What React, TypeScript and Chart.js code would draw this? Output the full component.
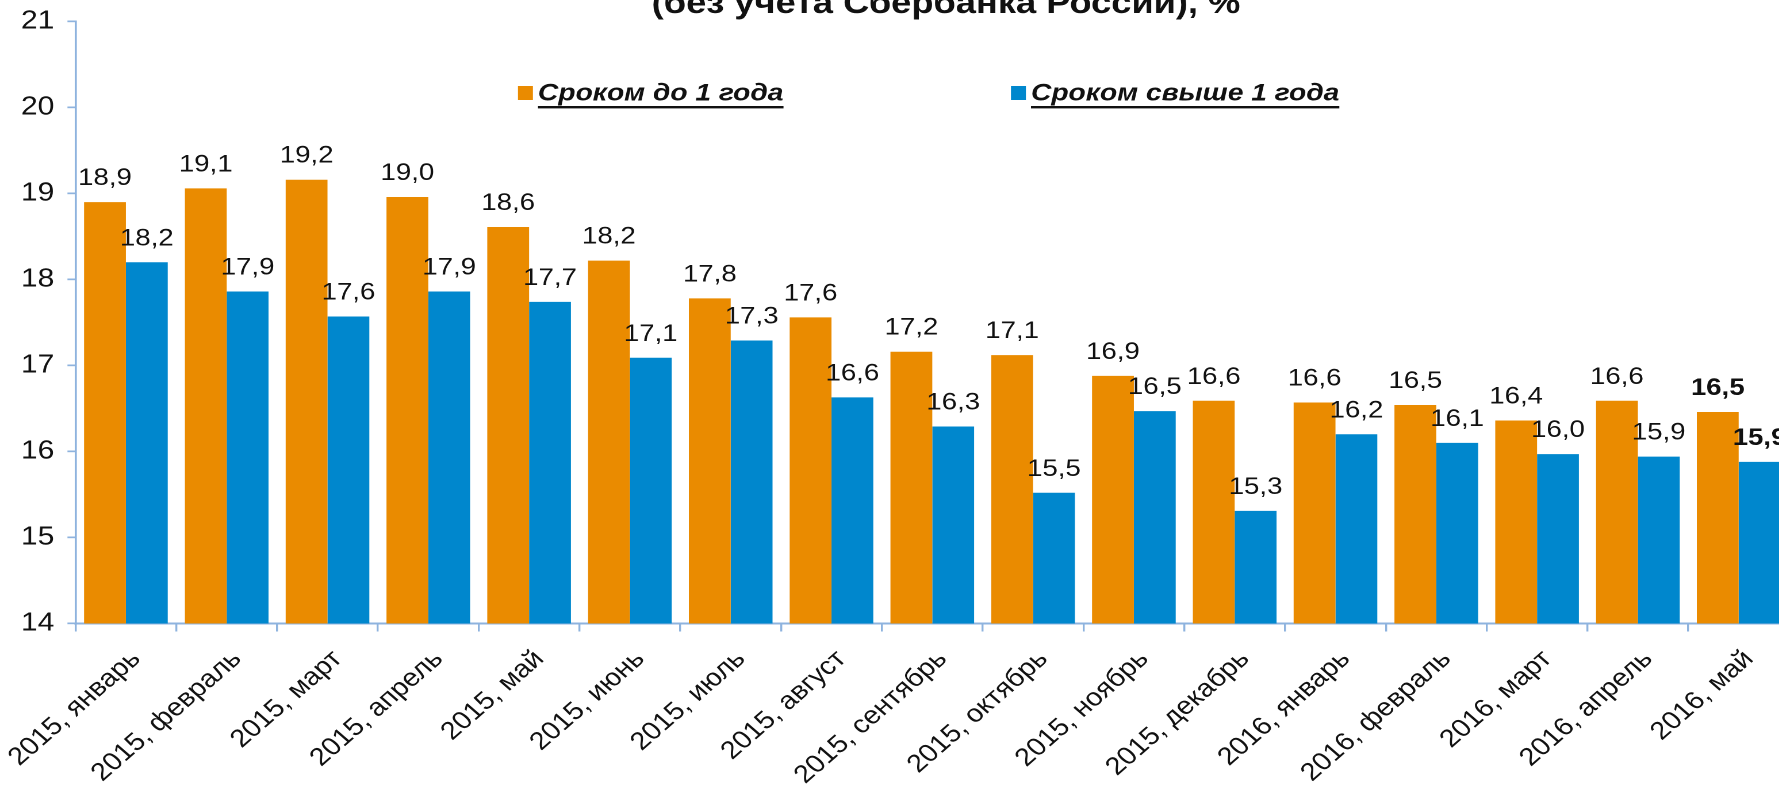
import React, { useEffect, useRef } from "react";
import { Chart, registerables } from "chart.js";

Chart.register(...registerables);

// ---------- data ----------
const categories = [
  "2015, январь", "2015, февраль", "2015, март", "2015, апрель", "2015, май",
  "2015, июнь", "2015, июль", "2015, август", "2015, сентябрь", "2015, октябрь",
  "2015, ноябрь", "2015, декабрь", "2016, январь", "2016, февраль", "2016, март",
  "2016, апрель", "2016, май",
];
const shortTermRates = [
  18.9, 19.06, 19.16, 18.96, 18.61, 18.22, 17.78, 17.56, 17.16, 17.12,
  16.88, 16.59, 16.57, 16.54, 16.36, 16.59, 16.46,
];
const longTermRates = [
  18.2, 17.86, 17.57, 17.86, 17.74, 17.09, 17.29, 16.63, 16.29, 15.52,
  16.47, 15.31, 16.2, 16.1, 15.97, 15.94, 15.88,
];
const seriesNames = ["Сроком до 1 года", "Сроком свыше 1 года"];
const seriesColors = ["#EA8B00", "#0087CD"];
const yMin = 14;
const yMax = 21;
const yStep = 1;
const titleText = "(без учета Сбербанка России), %";

// ---------- layout / style ----------
const STRETCH = 1.15;
const LOGICAL_W = 1570;
const H = 789;
const FONT = "'Liberation Sans', Arial, Helvetica, sans-serif";
const AXIS_COLOR = "#8EB3DE";
const TEXT_COLOR = "#111111";

const titlePlugin = {
  id: "cutTitle",
  afterDraw(chart: any) {
    const ctx = chart.ctx;
    ctx.save();
    ctx.font = `bold 31.5px ${FONT}`;
    ctx.fillStyle = TEXT_COLOR;
    ctx.textAlign = "center";
    ctx.textBaseline = "alphabetic";
    ctx.fillText(titleText, 822.6, 13);
    ctx.restore();
  },
};

const legendPlugin = {
  id: "underlinedLegend",
  afterDraw(chart: any) {
    const ctx = chart.ctx;
    const xs = [450.4, 879.1];
    ctx.save();
    ctx.font = `italic bold 24.5px ${FONT}`;
    ctx.textBaseline = "alphabetic";
    ctx.textAlign = "left";
    chart.data.datasets.forEach((ds: any, i: number) => {
      const x = xs[i];
      ctx.fillStyle = ds.backgroundColor;
      ctx.fillRect(x, 86, 13, 14);
      const tx = x + 17.4;
      ctx.fillStyle = TEXT_COLOR;
      ctx.fillText(ds.label, tx, 100.5);
      const w = ctx.measureText(ds.label).width;
      ctx.fillRect(tx, 106, w, 2.4);
    });
    ctx.restore();
  },
};

const valueLabelPlugin = {
  id: "valueLabels",
  afterDatasetsDraw(chart: any) {
    const ctx = chart.ctx;
    ctx.save();
    ctx.fillStyle = TEXT_COLOR;
    ctx.textAlign = "center";
    ctx.textBaseline = "alphabetic";
    chart.data.datasets.forEach((ds: any, di: number) => {
      const meta = chart.getDatasetMeta(di);
      meta.data.forEach((el: any, i: number) => {
        const v = ds.data[i] as number;
        const txt = v.toFixed(1).replace(".", ",");
        const bold = i === ds.data.length - 1;
        ctx.font = `${bold ? "bold " : ""}24px ${FONT}`;
        ctx.fillText(txt, el.x, el.y - 17);
      });
    });
    ctx.restore();
  },
};

export default function App() {
  const canvasRef = useRef<HTMLCanvasElement | null>(null);

  useEffect(() => {
    if (!canvasRef.current) return;
    const chart = new Chart(canvasRef.current, {
      type: "bar",
      data: {
        labels: categories,
        datasets: [
          {
            label: seriesNames[0],
            data: shortTermRates,
            backgroundColor: seriesColors[0],
            categoryPercentage: 0.83,
            barPercentage: 1.0,
          },
          {
            label: seriesNames[1],
            data: longTermRates,
            backgroundColor: seriesColors[1],
            categoryPercentage: 0.83,
            barPercentage: 1.0,
          },
        ],
      },
      options: {
        responsive: false,
        animation: false,
        devicePixelRatio: 2,
        layout: { padding: { top: 21.5, right: 14.3, bottom: 0, left: 0 } },
        plugins: {
          legend: { display: false },
          title: { display: false },
          tooltip: { enabled: false },
        },
        scales: {
          x: {
            grid: {
              offset: true,
              drawOnChartArea: false,
              drawTicks: true,
              tickLength: 8,
              color: AXIS_COLOR,
              lineWidth: 1.7,
            },
            border: { display: true, color: AXIS_COLOR, width: 2 },
            ticks: {
              autoSkip: false,
              minRotation: 45,
              maxRotation: 45,
              padding: 13,
              labelOffset: 9,
              color: TEXT_COLOR,
              font: { family: FONT, size: 25 },
            },
            afterFit: (s: any) => {
              s.height = H - 623.5;
              s.paddingLeft = 0;
              s.paddingRight = 0;
            },
          },
          y: {
            min: yMin,
            max: yMax,
            grid: {
              drawOnChartArea: false,
              drawTicks: true,
              tickLength: 7,
              color: AXIS_COLOR,
              lineWidth: 1.7,
            },
            border: { display: true, color: AXIS_COLOR, width: 1.8 },
            ticks: {
              stepSize: yStep,
              padding: 11.5,
              color: TEXT_COLOR,
              font: { family: FONT, size: 26 },
            },
            afterFit: (s: any) => {
              s.width = 65.65;
              s.paddingTop = 0;
              s.paddingBottom = 0;
            },
          },
        },
      },
      plugins: [titlePlugin, legendPlugin, valueLabelPlugin],
    });
    return () => chart.destroy();
  }, []);

  return (
    <div
      style={{
        position: "fixed",
        left: 0,
        top: 0,
        width: 1779,
        height: H,
        overflow: "hidden",
        background: "#ffffff",
      }}
    >
      <div
        style={{
          width: LOGICAL_W,
          height: H,
          transform: `scaleX(${STRETCH})`,
          transformOrigin: "0 0",
        }}
      >
        <canvas ref={canvasRef} width={LOGICAL_W} height={H} />
      </div>
    </div>
  );
}
